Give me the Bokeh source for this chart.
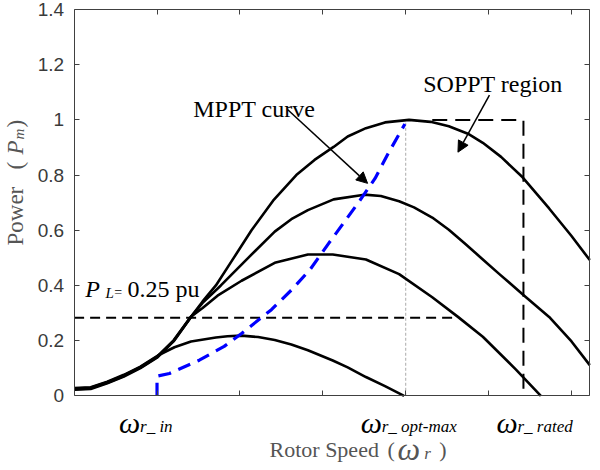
import math
from bokeh.plotting import figure
from bokeh.models import Range1d, FixedTicker, LinearAxis, Label, Arrow, NormalHead
from bokeh.embed import file_html
from bokeh.resources import INLINE

# ---------------- data ----------------
speed_ticks = [1, 2, 3, 4, 5, 6]
power_ticks = [0, 0.2, 0.4, 0.6, 0.8, 1.0, 1.2, 1.4]
power_tick_labels = ["0", "0.2", "0.4", "0.6", "0.8", "1", "1.2", "1.4"]
speed_max = 6.22
power_max = 1.4

c1_x = [0, 0.2, 0.4, 0.6, 0.8, 1.0, 1.2, 1.41, 1.55, 1.71, 1.9, 2.14, 2.4, 2.68, 2.9, 3.13, 3.3, 3.52, 3.75, 4.04, 4.3, 4.52, 4.75, 4.93, 5.15, 5.41, 5.73, 6.0, 6.22]
c1_y = [0.022, 0.025, 0.045, 0.07, 0.1, 0.138, 0.197, 0.286, 0.342, 0.40, 0.488, 0.60, 0.707, 0.80, 0.855, 0.902, 0.94, 0.970, 0.991, 1.0, 0.993, 0.977, 0.950, 0.917, 0.866, 0.792, 0.679, 0.579, 0.492]

c2_x = [0, 0.2, 0.4, 0.6, 0.8, 1.0, 1.2, 1.41, 1.55, 1.77, 2.1, 2.42, 2.62, 2.82, 3.13, 3.5, 3.7, 3.92, 4.1, 4.32, 4.52, 4.72, 4.92, 5.13, 5.43, 5.73, 6.0, 6.22]
c2_y = [0.024, 0.027, 0.047, 0.072, 0.102, 0.14, 0.199, 0.286, 0.337, 0.40, 0.50, 0.595, 0.64, 0.673, 0.712, 0.729, 0.724, 0.705, 0.683, 0.646, 0.602, 0.55, 0.497, 0.441, 0.363, 0.286, 0.197, 0.111]

c3_x = [0, 0.2, 0.4, 0.6, 0.8, 1.0, 1.2, 1.41, 1.55, 1.73, 2.02, 2.42, 2.82, 3.12, 3.52, 3.92, 4.32, 4.63, 4.93, 5.33, 5.63]
c3_y = [0.026, 0.029, 0.049, 0.074, 0.104, 0.142, 0.201, 0.287, 0.318, 0.363, 0.417, 0.482, 0.512, 0.512, 0.494, 0.441, 0.357, 0.286, 0.214, 0.095, 0.0]

c4_x = [0, 0.2, 0.4, 0.6, 0.8, 1.01, 1.21, 1.41, 1.71, 1.85, 2.02, 2.22, 2.42, 2.62, 2.82, 3.12, 3.3, 3.52, 3.75, 3.98]
c4_y = [0.028, 0.031, 0.051, 0.076, 0.106, 0.146, 0.176, 0.197, 0.211, 0.216, 0.218, 0.213, 0.202, 0.186, 0.165, 0.128, 0.103, 0.068, 0.035, 0.0]

mppt_x = [1.0, 1.0, 1.15, 1.51, 1.81, 2.02, 2.38, 2.62, 2.85, 3.06, 3.45, 3.63, 3.79, 3.99]
mppt_y = [0.0, 0.071, 0.081, 0.129, 0.179, 0.226, 0.312, 0.383, 0.459, 0.548, 0.709, 0.788, 0.879, 0.985]

w_in = 1.0
w_opt_max = 4.0
w_rated = 5.42
p_load = 0.283
p_load_end = 4.62
p_max = 1.0
soppt_start = 4.32

# ---------------- figure ----------------
SERIF = "Liberation Serif"
SANS = "Liberation Sans"
AX = "#404040"

p = figure(width=592, height=462, x_range=Range1d(-0.888, 6.253), y_range=Range1d(-0.2418, 1.4328),
           output_backend="svg", toolbar_location=None,
           min_border=0, min_border_left=0, min_border_right=0, min_border_top=0, min_border_bottom=0)
p.grid.visible = False
p.outline_line_color = None

def style_axis(ax, ticks):
    ax.ticker = FixedTicker(ticks=ticks)
    ax.axis_line_color = AX
    ax.axis_line_width = 1
    ax.major_tick_line_color = AX
    ax.major_tick_in = 5
    ax.major_tick_out = 0
    ax.minor_tick_line_color = None

xb = p.xaxis[0]
style_axis(xb, speed_ticks)
xb.fixed_location = 0
xb.bounds = (0, speed_max)
xb.major_label_text_font_size = "0px"

yl = p.yaxis[0]
style_axis(yl, power_ticks)
yl.fixed_location = 0
yl.bounds = (0, power_max)
yl.major_label_overrides = {t: l for t, l in zip(power_ticks, power_tick_labels)}
yl.major_label_text_font = SANS
yl.major_label_text_font_size = "19px"
yl.major_label_text_color = "#3a3a3a"
yl.major_label_standoff = 10

top = LinearAxis(fixed_location=power_max, bounds=(0, speed_max), major_label_text_font_size="0px")
style_axis(top, speed_ticks)
right = LinearAxis(fixed_location=speed_max, bounds=(0, power_max), major_label_text_font_size="0px")
style_axis(right, power_ticks)
p.add_layout(top, "above")
p.add_layout(right, "right")

# reference lines
p.line([w_opt_max, w_opt_max], [0, p_max], line_color="#aaaaaa", line_width=1, line_dash="3 2")
p.line([0, p_load_end], [p_load, p_load], line_color="black", line_width=2, line_dash="10 6")
p.line([soppt_start, w_rated, w_rated], [p_max, p_max, 0], line_color="black", line_width=2, line_dash="15 8")

# power curves
for xs, ys in ((c1_x, c1_y), (c2_x, c2_y), (c3_x, c3_y), (c4_x, c4_y)):
    p.line(xs, ys, line_color="black", line_width=2.6, line_join="round")

p.line(mppt_x, mppt_y, line_color="#0000ff", line_width=3.2, line_dash="13 8")

# arrows
p.add_layout(Arrow(end=NormalHead(size=11, fill_color="black", line_color="black"),
                   x_start=2.574, y_start=1.0375, x_end=3.54, y_end=0.77,
                   line_color="black", line_width=1.5))
p.add_layout(Arrow(end=NormalHead(size=11, fill_color="black", line_color="black"),
                   x_start=5.01, y_start=1.09, x_end=4.63, y_end=0.883,
                   line_color="black", line_width=1.5))

def lab(x, y, text, size, italic=False, color="black", font=SERIF, angle=0.0, x_offset=0):
    p.add_layout(Label(x=x, y=y, text=text, text_font=font, text_font_size=f"{size}px",
                       text_font_style="italic" if italic else "normal", text_color=color,
                       text_baseline="alphabetic", text_align="left", angle=angle,
                       x_offset=x_offset))

lab(1.437, 1.0386, "MPPT curve", 24)
lab(4.211, 1.1315, "SOPPT region", 24)
lab(0.134, 0.387, "P", 24, italic=True)
lab(0.379, 0.373, "L", 15, italic=True)
lab(0.484, 0.373, "=", 14)
lab(0.644, 0.387, "0.25 pu", 24)

# speed markers under the axis
for w, off, sub in ((w_in, -38, "r_ in"), (w_opt_max, -45, "r_ opt-max"), (w_rated, -27, "r_ rated")):
    lab(w, -0.0968, "\u03c9", 30, italic=True, x_offset=off)
    lab(w, -0.1113, sub, 17, italic=True, x_offset=off + 21)

# axis titles
GREY = "#555555"
lab(2.357, -0.1935, "Rotor Speed", 22, color=GREY)
lab(3.78, -0.1935, "(", 22, color=GREY)
lab(3.901, -0.1935, "\u03c9", 32, italic=True, color=GREY)
lab(4.223, -0.2091, "r", 17, italic=True, color=GREY)
lab(4.404, -0.1935, ")", 22, color=GREY)

Y_X = -0.707
lab(Y_X, 0.5448, "Power", 23, color=GREY, angle=math.pi / 2)
lab(Y_X, 0.8202, "(", 23, color=GREY, angle=math.pi / 2)
lab(Y_X, 0.8746, "P", 23, italic=True, color=GREY, angle=math.pi / 2)
lab(-0.659, 0.9290, "m", 15, italic=True, color=GREY, angle=math.pi / 2)
lab(Y_X, 0.9724, ")", 23, color=GREY, angle=math.pi / 2)

open("out.html", "w").write(file_html(p, INLINE))
